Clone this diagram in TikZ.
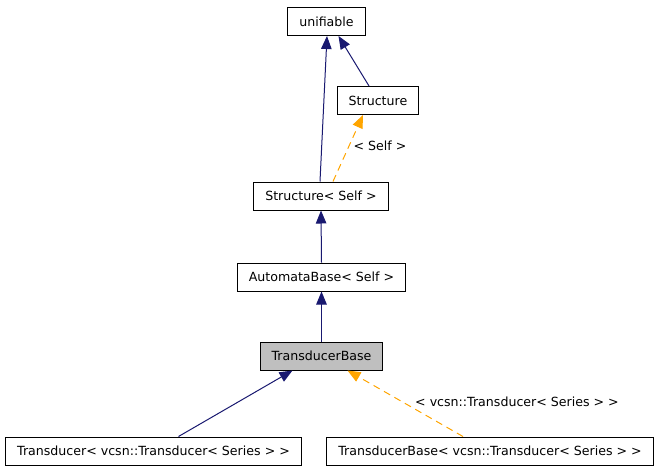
\documentclass[tikz,border=0pt]{standalone}
\usepackage{xcolor}
\usepackage{fontspec}
\setmainfont{DejaVu Sans}
\usetikzlibrary{arrows.meta}

\definecolor{inhblue}{RGB}{25,25,112}
\definecolor{tmplorange}{RGB}{255,165,0}
\definecolor{curgray}{RGB}{191,191,191}

\begin{document}
\begin{tikzpicture}[
    x=1pt, y=-1pt,
    every node/.style={font=\fontsize{12.6}{14}\selectfont},
    cls/.style={rectangle, draw, line width=1pt, minimum height=28pt, inner xsep=11.5pt, inner ysep=0pt},
    inh/.style={draw=inhblue, line width=1pt, -{Triangle[length=13pt,width=10.5pt,fill=inhblue]}},
    tmpl/.style={draw=tmplorange, line width=1pt, dashed, dash pattern=on 7pt off 5pt, -{Triangle[length=13pt,width=10.5pt,fill=tmplorange]}},
    lbl/.style={inner sep=0pt}
]
\useasboundingbox (0,0) rectangle (659,472);

\node[cls] (unif) at (326.5, 21.5) {unifiable};
\node[cls] (st) at (378, 100.5) {Structure};
\node[cls] (sts) at (321, 196) {Structure< Self >};
\node[cls] (ab) at (321.5, 277) {AutomataBase< Self >};
\node[cls, fill=curgray] (tb) at (321.5, 356) {TransducerBase};
\node[cls] (tr) at (153.5, 451) {Transducer< vcsn::Transducer< Series > >};
\node[cls] (tbs) at (490, 451) {TransducerBase< vcsn::Transducer< Series > >};

% inheritance
\draw[inh] ([xshift=-1pt]sts.north) -- ([xshift=0.5pt]unif.south);
\draw[inh] ([xshift=-9pt]st.north) -- ([xshift=12pt]unif.south);
\draw[inh] (ab.north) -- (sts.south);
\draw[inh] (tb.north) -- (ab.south);
\draw[inh] ([xshift=25pt]tr.north) -- ([xshift=-29pt]tb.south);

% template instances
\draw[tmpl] ([xshift=12pt]sts.north) -- ([xshift=-15pt]st.south);
\node[lbl] (selflbl) at (380, 146) {< Self >};
\draw[tmpl] ([xshift=-27pt]tbs.north) -- ([xshift=26pt]tb.south);
\node[lbl] (serlbl) at (517, 402) {< vcsn::Transducer< Series > >};

\end{tikzpicture}
\end{document}
